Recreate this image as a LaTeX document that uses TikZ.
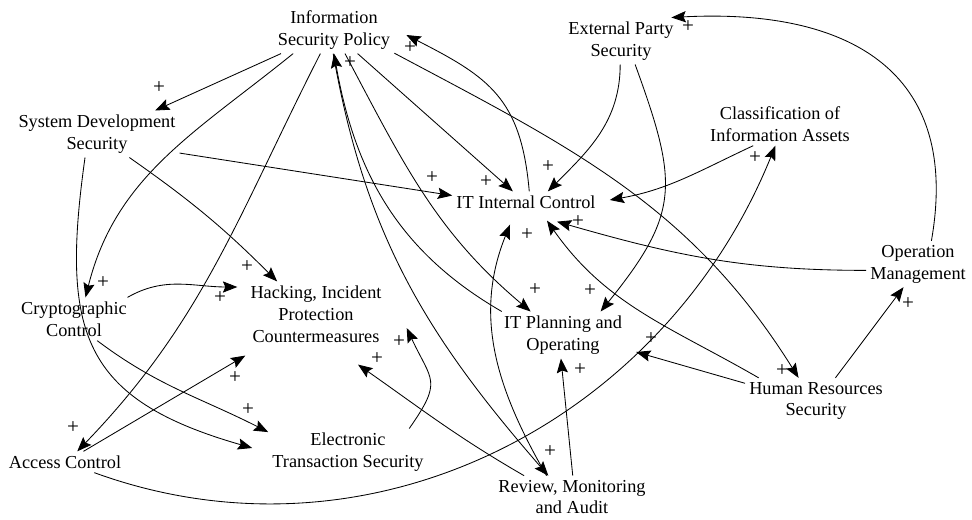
\documentclass[tikz,border=0pt]{standalone}
\usepackage{fontspec}
\setmainfont{Liberation Serif}
\usetikzlibrary{arrows.meta}

\tikzset{
  var/.style={align=center, inner sep=1pt, outer sep=2pt, font=\fontsize{13}{15.6}\selectfont},
  lnk/.style={line width=0.6pt, -{Stealth[length=3.6mm,width=2.8mm,inset=0.6mm]}},
  pl/.style={inner sep=0pt, font=\fontsize{15}{16}\selectfont}
}

\begin{document}
\begin{tikzpicture}[x=0.025cm,y=0.025cm]
\useasboundingbox (0,0) rectangle (972,-519);

% variables
\node[var] (isp) at (334,-30) {Information\\Security Policy};
\node[var] (eps) at (621,-41) {External Party\\Security};
\node[var] (sds) at (97,-134) {System Development\\Security};
\node[var] (cia) at (780,-124) {Classification of\\Information Assets};
\node[var] (itic) at (526,-202) {IT Internal Control};
\node[var] (om) at (918,-264) {Operation\\Management};
\node[var] (cc) at (74,-319) {Cryptographic\\Control};
\node[var] (hipc) at (316,-314) {Hacking, Incident\\Protection\\Countermeasures};
\node[var] (itpo) at (563,-335) {IT Planning and\\Operating};
\node[var] (hrs) at (816,-401) {Human Resources\\Security};
\node[var] (ac) at (65,-462) {Access Control};
\node[var] (ets) at (348,-452) {Electronic\\Transaction Security};
\node[var] (rma) at (572,-497) {Review, Monitoring\\and Audit};

% links out of the policy
\draw[lnk] (isp.204) -- (sds.22);
\draw[lnk] (isp.210) to[out=219,in=76] (cc.62);
\draw[lnk] (isp.240) to[out=243,in=46] (ac.41);
\draw[lnk] (isp.315) -- (itic.141);
\draw[lnk] (isp.339) to[out=-28,in=122] (hrs.127);
\draw[lnk] (isp.295) to[out=-62,in=140] (itpo.144);
\draw[lnk] (isp.268) to[out=280,in=131] (rma.138);
\draw[lnk] (itpo.159) to[out=150,in=280] (isp.270);
\draw[lnk] (itic.73) to[out=95,in=-27,looseness=1.2] ([shift={(12,-5)}]isp.east);

% left side
\draw[lnk] (sds.347) -- (itic.175);
\draw[lnk] (sds.324) to[out=-35,in=135] (hipc.140);
\draw[lnk] (sds.243) to[out=262,in=164,looseness=1.35] ([shift={(-16,4)}]ets.west);
\draw[lnk] (cc.317) to[out=323,in=153] (ets.166);
\draw[lnk] (cc.22) to[out=30,in=180] ([shift={(-9,27)}]hipc.west);
\draw[lnk] (ac.30) -- ([shift={(-1,-9)}]hipc.south west);
\draw[lnk] (ac.340) to[out=-20,in=248] (cia.258);

% right side
\draw[lnk] (eps.268) to[out=270,in=45] (itic.26);
\draw[lnk] (eps.301) to[out=290,in=51,looseness=1.3] (itpo.32);
\draw[lnk] (cia.219) to[out=205,in=10] ([shift={(10,2)}]itic.east);
\draw[lnk] (om.187) to[out=180,in=-16] ([shift={(31,-9)}]itic.south);
\draw[lnk] (om.60) to[out=80,in=3,looseness=1.3] (eps.25);
\draw[lnk] (hrs.50) -- (om.238);
\draw[lnk] (hrs.166) -- ([shift={(10,-17)}]itpo.east);
\draw[lnk] (hrs.158) to[out=150,in=305] ([shift={(21,-8)}]itic.south);

% bottom
\draw[lnk] (rma.140) to[out=120,in=248] ([shift={(-16,-12)}]itic.south);
\draw[lnk] (rma.88) -- (itpo.265);
\draw[lnk] (rma.156) to[out=150,in=-35] ([shift={(42,-18)}]hipc.south);
\draw[lnk] (ets.21) to[out=55,in=-65,looseness=1.5] ([shift={(21,-14)}]hipc.east);

% polarities
\foreach \x/\y [count=\i] in {159/88,103/283,73/428,486/182,410/48,432/178,
  247/267,220/298,235/378,248/410,755/158,548/167,590/291,578/222,688/27,
  908/304,651/339,782/371,535/290,350/63,527/235,550/452,580/370,377/359,399/342}
  \node[pl] (p\i) at (\x,-\y) {+};
\end{tikzpicture}
\end{document}
